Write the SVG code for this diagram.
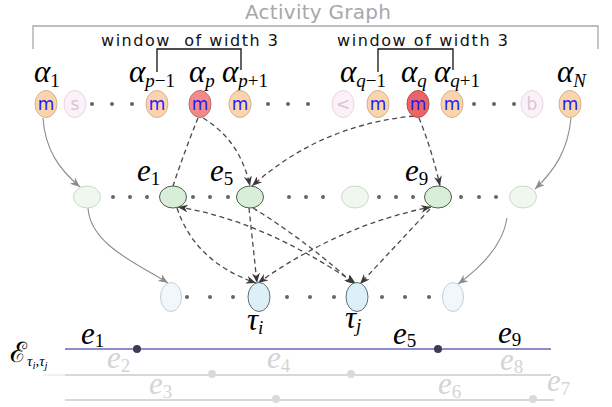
<svg xmlns="http://www.w3.org/2000/svg" width="612" height="407" viewBox="0 0 612 407">
<style>
.math{font-family:"Liberation Serif","DejaVu Serif",serif;font-style:italic;font-size:31px;fill:#000}
.sub{font-size:19px;font-style:normal}
.subi{font-size:19px;font-style:italic}
.faint{fill:#d4d4d4}
.win{font-family:"DejaVu Sans",sans-serif;font-size:16px;fill:#111}
.title{font-family:"DejaVu Sans",sans-serif;font-size:20px;fill:#a8a8a8}
.nm{font-family:"DejaVu Sans",sans-serif;font-size:17px;fill:#1a1aff;text-anchor:middle}
.np{font-family:"DejaVu Sans",sans-serif;font-size:17px;fill:#dcc4d0;text-anchor:middle}
.or{fill:#fcd4ac;stroke:#cfb394;stroke-width:1}
.rd1{fill:#f38a8a;stroke:#b86a6a;stroke-width:1}
.rd2{fill:#ee6464;stroke:#b05050;stroke-width:1}
.pk{fill:#fcf1f8;stroke:#e6d6e0;stroke-width:1}
.gf{fill:#eff7ef;stroke:#cdd6cd;stroke-width:1}
.gn{fill:#d8eed8;stroke:#4e5e4e;stroke-width:1}
.bf{fill:#f1f7fb;stroke:#c6ced6;stroke-width:1}
.bn{fill:#dcf0f8;stroke:#5e6e78;stroke-width:1}
.dot{fill:#666}
.dash{fill:none;stroke:#4a4a4a;stroke-width:1.3;stroke-dasharray:5,3.5}
.solid{fill:none;stroke:#8c8c8c;stroke-width:1.1}
</style>
<defs>
<marker id="ad" viewBox="0 0 10 8" refX="10" refY="4" markerWidth="10" markerHeight="8" markerUnits="userSpaceOnUse" orient="auto-start-reverse">
<path d="M0,0 L10,4 L0,8 L3,4 z" fill="#3a3a3a"/>
</marker>
<marker id="ag" viewBox="0 0 10 8" refX="10" refY="4" markerWidth="10" markerHeight="8" markerUnits="userSpaceOnUse" orient="auto">
<path d="M0,0 L10,4 L0,8 L3,4 z" fill="#8c8c8c"/>
</marker>
</defs>
<rect width="612" height="407" fill="#fff"/>

<g id="title">
<text class="title" x="245" y="19" textLength="146">Activity Graph</text>
<path d="M33,49 V26 H598 V49" fill="none" stroke="#a8a8a8" stroke-width="1.3"/>
</g>

<g id="window1">
<text class="win" x="101" y="46" textLength="177" xml:space="preserve">window  of width 3</text>
<path d="M157,72 V49 H241 V70" fill="none" stroke="#111" stroke-width="1.3"/>
</g>
<g id="window2">
<text class="win" x="337" y="46" textLength="171">window of width 3</text>
<path d="M378,72 V49 H453 V70" fill="none" stroke="#111" stroke-width="1.3"/>
</g>

<g id="labels-top">
<text class="math" x="34" y="82">α<tspan class="sub" dy="5">1</tspan></text>
<text class="math" x="129" y="82">α<tspan class="subi" dy="5">p</tspan><tspan class="sub">−1</tspan></text>
<text class="math" x="189" y="82">α<tspan class="subi" dy="5">p</tspan></text>
<text class="math" x="222" y="82">α<tspan class="subi" dy="5">p</tspan><tspan class="sub">+1</tspan></text>
<text class="math" x="340" y="82">α<tspan class="subi" dy="5">q</tspan><tspan class="sub">−1</tspan></text>
<text class="math" x="401" y="82">α<tspan class="subi" dy="5">q</tspan></text>
<text class="math" x="434" y="82">α<tspan class="subi" dy="5">q</tspan><tspan class="sub">+1</tspan></text>
<text class="math" x="557" y="82">α<tspan class="subi" dy="5">N</tspan></text>
</g>

<g id="connectors">
<path class="solid" d="M43,118 C45,150 60,170 80,187" marker-end="url(#ag)"/>
<path class="solid" d="M88,208 C90,245 140,265 168,283" marker-end="url(#ag)"/>
<path class="solid" d="M571,118 C568,150 555,170 535,189" marker-end="url(#ag)"/>
<path class="solid" d="M507,218 C503,245 480,268 458,284" marker-end="url(#ag)"/>

<path class="dash" d="M198,118 Q185,150 173,186"/>
<path class="dash" d="M203,118 Q240,140 250,186" marker-end="url(#ad)"/>
<path class="dash" d="M414,116 Q320,125 252,186" marker-end="url(#ad)"/>
<path class="dash" d="M419,118 Q432,150 440,186" marker-end="url(#ad)"/>
<path class="dash" d="M177,208 Q195,262 256,283" marker-end="url(#ad)"/>
<path class="dash" d="M249,208 L257,283" marker-end="url(#ad)"/>
<path class="dash" d="M258,283 Q340,225 431,207" marker-start="url(#ad)" marker-end="url(#ad)"/>
<path class="dash" d="M178,207 Q262,220 356,284" marker-start="url(#ad)" marker-end="url(#ad)"/>
<path class="dash" d="M253,208 Q305,240 354,284" marker-end="url(#ad)"/>
<path class="dash" d="M430,209 L360,284" marker-end="url(#ad)"/>
</g>

<g id="dots">
<circle class="dot" cx="92" cy="104" r="2"/><circle class="dot" cx="112" cy="104" r="2"/><circle class="dot" cx="132" cy="104" r="2"/>
<circle class="dot" cx="268" cy="104" r="2"/><circle class="dot" cx="288" cy="104" r="2"/><circle class="dot" cx="308" cy="104" r="2"/>
<circle class="dot" cx="474" cy="104" r="2"/><circle class="dot" cx="494" cy="104" r="2"/><circle class="dot" cx="514" cy="104" r="2"/>
<circle class="dot" cx="113" cy="197" r="2"/><circle class="dot" cx="130" cy="197" r="2"/><circle class="dot" cx="147" cy="197" r="2"/>
<circle class="dot" cx="193" cy="197" r="2"/><circle class="dot" cx="210" cy="197" r="2"/><circle class="dot" cx="228" cy="197" r="2"/>
<circle class="dot" cx="289" cy="197" r="2"/><circle class="dot" cx="306" cy="197" r="2"/><circle class="dot" cx="323" cy="197" r="2"/>
<circle class="dot" cx="379" cy="197" r="2"/><circle class="dot" cx="396" cy="197" r="2"/><circle class="dot" cx="413" cy="197" r="2"/>
<circle class="dot" cx="461" cy="197" r="2"/><circle class="dot" cx="479" cy="197" r="2"/><circle class="dot" cx="496" cy="197" r="2"/>
<circle class="dot" cx="187" cy="297" r="2"/><circle class="dot" cx="210" cy="297" r="2"/><circle class="dot" cx="233" cy="297" r="2"/>
<circle class="dot" cx="287" cy="297" r="2"/><circle class="dot" cx="310" cy="297" r="2"/><circle class="dot" cx="334" cy="297" r="2"/>
<circle class="dot" cx="382" cy="297" r="2"/><circle class="dot" cx="405" cy="297" r="2"/><circle class="dot" cx="429" cy="297" r="2"/>
</g>

<g id="a1"><ellipse class="or" cx="46" cy="104" rx="11" ry="13.5"/><text class="nm" x="46" y="110">m</text></g>
<g id="s"><ellipse class="pk" cx="75" cy="104" rx="11" ry="13.5"/><text class="np" x="75" y="110">s</text></g>
<g id="ap-1"><ellipse class="or" cx="157" cy="104" rx="11" ry="13.5"/><text class="nm" x="157" y="110">m</text></g>
<g id="ap"><ellipse class="rd1" cx="200" cy="104" rx="11" ry="13.5"/><text class="nm" x="200" y="110">m</text></g>
<g id="ap+1"><ellipse class="or" cx="240" cy="104" rx="11" ry="13.5"/><text class="nm" x="240" y="110">m</text></g>
<g id="lt"><ellipse class="pk" cx="343" cy="104" rx="11" ry="13.5"/><text class="np" x="343" y="110">&lt;</text></g>
<g id="aq-1"><ellipse class="or" cx="378" cy="104" rx="11" ry="13.5"/><text class="nm" x="378" y="110">m</text></g>
<g id="aq"><ellipse class="rd2" cx="418" cy="104" rx="11" ry="13.5"/><text class="nm" x="418" y="110">m</text></g>
<g id="aq+1"><ellipse class="or" cx="452" cy="104" rx="11" ry="13.5"/><text class="nm" x="452" y="110">m</text></g>
<g id="b"><ellipse class="pk" cx="532" cy="104" rx="11" ry="13.5"/><text class="np" x="532" y="110">b</text></g>
<g id="aN"><ellipse class="or" cx="570" cy="104" rx="11" ry="13.5"/><text class="nm" x="570" y="110">m</text></g>

<g id="m1"><ellipse class="gf" cx="87" cy="197" rx="13.5" ry="11"/></g>
<g id="e1"><ellipse class="gn" cx="173" cy="197" rx="13.5" ry="11"/><text class="math" x="137" y="181">e<tspan class="sub" dy="4">1</tspan></text></g>
<g id="e5"><ellipse class="gn" cx="250" cy="197" rx="13.5" ry="11"/><text class="math" x="210" y="181">e<tspan class="sub" dy="4">5</tspan></text></g>
<g id="m2"><ellipse class="gf" cx="355" cy="197" rx="13.5" ry="11"/></g>
<g id="e9"><ellipse class="gn" cx="438" cy="197" rx="13.5" ry="11"/><text class="math" x="405" y="181">e<tspan class="sub" dy="4">9</tspan></text></g>
<g id="m3"><ellipse class="gf" cx="523" cy="197" rx="13.5" ry="11"/></g>

<g id="b1"><ellipse class="bf" cx="171" cy="297" rx="10.5" ry="14.5"/></g>
<g id="ti"><ellipse class="bn" cx="259" cy="297" rx="11" ry="14.5"/><text class="math" x="247" y="330">τ<tspan class="subi" dy="4">i</tspan></text></g>
<g id="tj"><ellipse class="bn" cx="357" cy="297" rx="11" ry="14.5"/><text class="math" x="345" y="328">τ<tspan class="subi" dy="4">j</tspan></text></g>
<g id="b2"><ellipse class="bf" cx="453" cy="297" rx="10.5" ry="14.5"/></g>

<g id="edge-set">
<text x="10" y="362" font-family="DejaVu Serif,serif" font-size="28">ℰ<tspan font-family="Liberation Serif,serif" font-style="italic" font-size="15" dy="4">τ</tspan><tspan font-family="Liberation Serif,serif" font-style="italic" font-size="11" dy="3">i</tspan><tspan font-family="Liberation Serif,serif" font-style="italic" font-size="15" dy="-3">,τ</tspan><tspan font-family="Liberation Serif,serif" font-style="italic" font-size="11" dy="3">j</tspan></text>
<line x1="65" y1="349" x2="551" y2="349" stroke="#8c8cca" stroke-width="2"/>
<circle cx="137" cy="349" r="4" fill="#3c3c58"/>
<circle cx="438" cy="349" r="4" fill="#3c3c58"/>
<text class="math" x="81" y="344">e<tspan class="sub" dy="3">1</tspan></text>
<text class="math" x="393" y="344">e<tspan class="sub" dy="3">5</tspan></text>
<text class="math" x="498" y="343">e<tspan class="sub" dy="3">9</tspan></text>
<line x1="43" y1="375" x2="65" y2="375" stroke="#ececec" stroke-width="1.5"/>
<line x1="65" y1="375" x2="551" y2="375" stroke="#d8d8d8" stroke-width="2"/>
<circle cx="212" cy="374" r="4" fill="#dadada"/>
<circle cx="351" cy="374" r="4" fill="#dadada"/>
<line x1="65" y1="400" x2="554" y2="400" stroke="#d8d8d8" stroke-width="2"/>
<circle cx="276" cy="399" r="4" fill="#dadada"/>
<circle cx="533" cy="399" r="4" fill="#dadada"/>
<text class="math faint" x="107" y="368">e<tspan class="sub" dy="4">2</tspan></text>
<text class="math faint" x="267" y="368">e<tspan class="sub" dy="4">4</tspan></text>
<text class="math faint" x="500" y="370">e<tspan class="sub" dy="3">8</tspan></text>
<text class="math faint" x="149" y="394">e<tspan class="sub" dy="4">3</tspan></text>
<text class="math faint" x="438" y="394">e<tspan class="sub" dy="4">6</tspan></text>
<text class="math faint" x="547" y="391">e<tspan class="sub" dy="4">7</tspan></text>
</g>
</svg>
